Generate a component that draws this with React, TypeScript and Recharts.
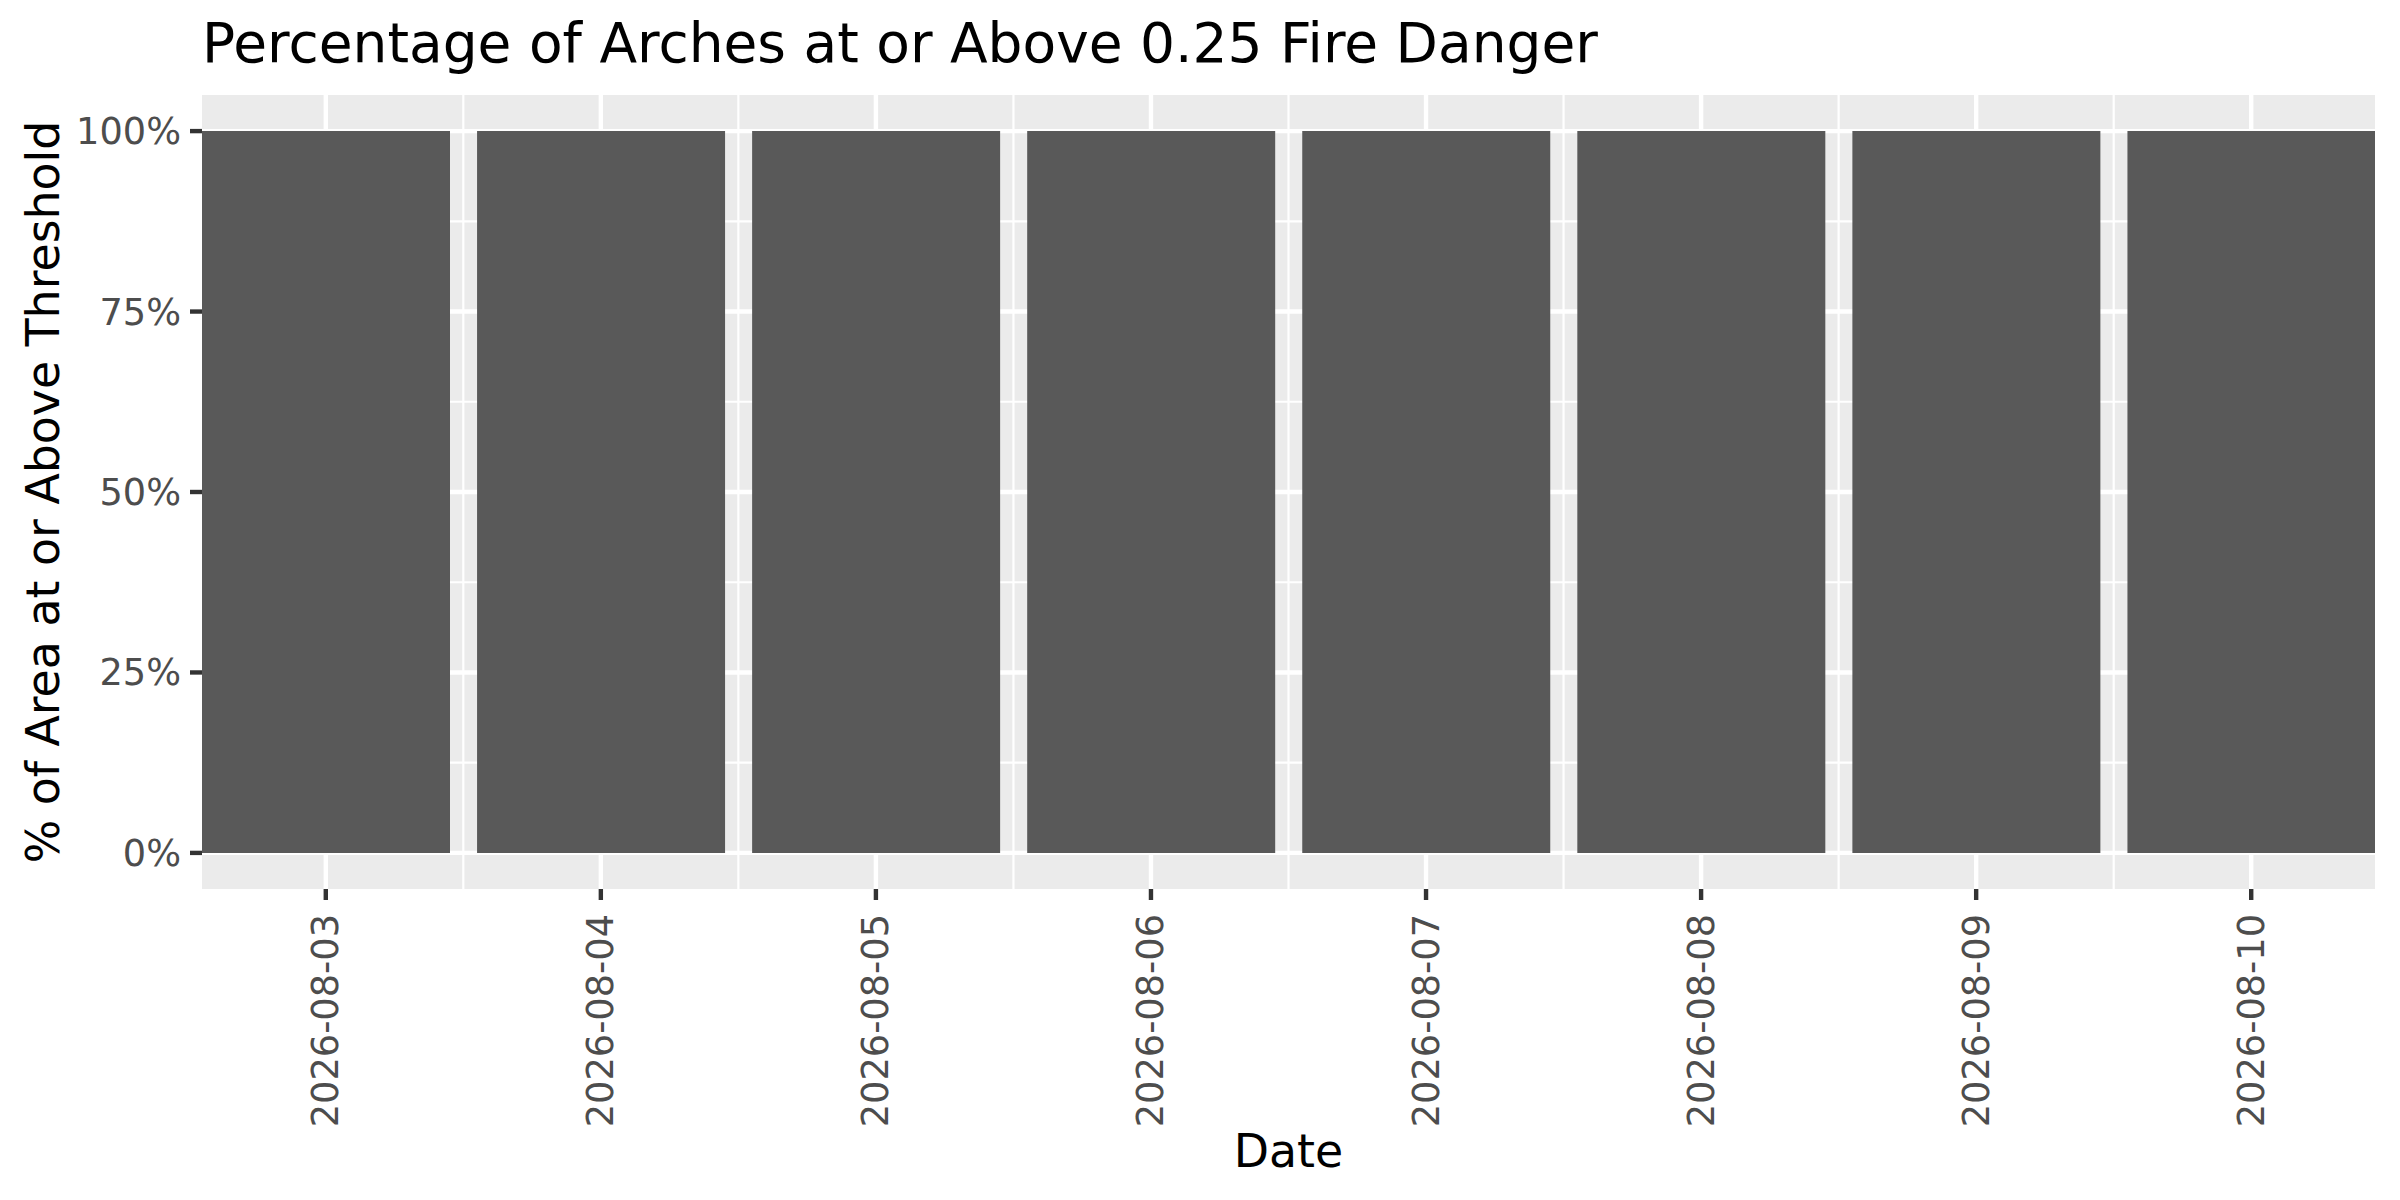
import { BarChart, Bar, XAxis, YAxis, CartesianGrid } from "recharts";

const dates = [
    "2026-08-03",
    "2026-08-04",
    "2026-08-05",
    "2026-08-06",
    "2026-08-07",
    "2026-08-08",
    "2026-08-09",
    "2026-08-10",
];
const pctAbove = [100, 100, 100, 100, 100, 100, 100, 100];
const yTicks = [0, 25, 50, 75, 100];
const yMinor = [12.5, 37.5, 62.5, 87.5];

const FONT = "'DejaVu Sans', sans-serif";

// dates sit on a continuous axis, like ggplot's date scale
const data = dates.map((d, i) => ({ pos: i + 1, date: d, value: pctAbove[i] }));
const xTicks = data.map((d) => d.pos);
const xMinor = xTicks.slice(0, -1).map((p) => p + 0.5);

const DateTick = (props: any) => {
    const { x, y, payload } = props;
    return (
        <text
            x={x}
            y={y}
            transform={`rotate(-90, ${x}, ${y})`}
            textAnchor="end"
            dominantBaseline="central"
            fill="#4D4D4D"
            fontSize={36.7}
            fontFamily={FONT}
        >
            {dates[payload.value - 1]}
        </text>
    );
};

export default function App() {
    return (
        <div style={{ position: "absolute", left: 0, top: 0, width: 2400, height: 1200, background: "#fff" }}>
            <div
                style={{
                    position: "absolute",
                    left: 202,
                    top: 16,
                    fontFamily: FONT,
                    fontSize: 55,
                    lineHeight: "55px",
                    color: "#000",
                    whiteSpace: "nowrap",
                }}
            >
                Percentage of Arches at or Above 0.25 Fire Danger
            </div>
            <BarChart
                width={2400}
                height={1200}
                data={data}
                margin={{ top: 95, right: 25, left: 0, bottom: 0 }}
                barCategoryGap="5%"
            >
                <CartesianGrid
                    horizontalValues={yMinor}
                    verticalValues={xMinor}
                    stroke="#FFFFFF"
                    strokeWidth={2.2}
                    fill="#EBEBEB"
                    syncWithTicks={false}
                />
                <CartesianGrid
                    horizontalValues={yTicks}
                    verticalValues={xTicks}
                    stroke="#FFFFFF"
                    strokeWidth={4.4}
                    fill="none"
                    syncWithTicks={false}
                />
                <XAxis
                    dataKey="pos"
                    type="number"
                    domain={[0.55, 8.45]}
                    ticks={xTicks}
                    allowDataOverflow
                    interval={0}
                    height={311}
                    axisLine={false}
                    tickSize={11}
                    tickMargin={14}
                    tickLine={{ stroke: "#333333", strokeWidth: 4.4 }}
                    tick={<DateTick />}
                    label={{
                        content: (p: any) => {
                            const vb = p.viewBox;
                            return (
                                <text
                                    x={vb.x + vb.width / 2}
                                    y={1151}
                                    textAnchor="middle"
                                    dominantBaseline="central"
                                    fontSize={45.8}
                                    fontFamily={FONT}
                                    fill="#000"
                                >
                                    Date
                                </text>
                            );
                        },
                    }}
                />
                <YAxis
                    type="number"
                    domain={[-5, 105]}
                    ticks={yTicks}
                    allowDataOverflow
                    width={202}
                    axisLine={false}
                    tickSize={12}
                    tickMargin={9}
                    tickLine={{ stroke: "#333333", strokeWidth: 4.4 }}
                    tick={{ fill: "#4D4D4D", fontSize: 36.7, fontFamily: FONT }}
                    tickFormatter={(v: number) => `${v}%`}
                    label={{
                        content: (p: any) => {
                            const vb = p.viewBox;
                            const cy = vb.y + vb.height / 2;
                            return (
                                <text
                                    x={43}
                                    y={cy}
                                    transform={`rotate(-90, 43, ${cy})`}
                                    textAnchor="middle"
                                    dominantBaseline="central"
                                    fontSize={45.8}
                                    fontFamily={FONT}
                                    fill="#000"
                                >
                                    % of Area at or Above Threshold
                                </text>
                            );
                        },
                    }}
                />
                <Bar dataKey="value" fill="#595959" isAnimationActive={false} />
            </BarChart>
        </div>
    );
}
